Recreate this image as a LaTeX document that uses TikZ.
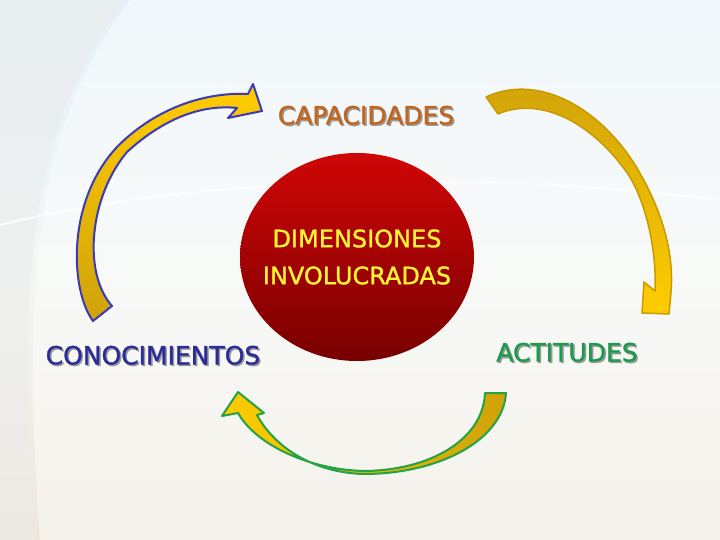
\documentclass[tikz,border=0pt]{standalone}
\usepackage{fontspec}
\setmainfont[FakeBold=1.2]{DejaVu Sans}
\usetikzlibrary{shapes.geometric}
\definecolor{bgtop}{HTML}{E6F1F7}
\definecolor{bgmid}{HTML}{F3F6F4}
\definecolor{bgbot}{HTML}{EEE7DB}
\definecolor{captxt}{HTML}{C4651E}
\definecolor{contxt}{HTML}{2B2B99}
\definecolor{acttxt}{HTML}{1E9A4C}
\definecolor{dimtxt}{HTML}{FFF535}
\definecolor{redtop}{HTML}{D00606}
\definecolor{redbot}{HTML}{780000}
\definecolor{goldA}{HTML}{FFCC00}
\definecolor{goldB}{HTML}{CFA20A}
\definecolor{blueline}{HTML}{3A3AB8}
\definecolor{greenline}{HTML}{24A244}
\definecolor{goldline}{HTML}{C99A00}
\definecolor{shadowgray}{HTML}{9A9A9A}
\newcommand{\shadowed}[1]{\makebox[0pt][l]{\hspace{1.5pt}\raisebox{-1.5pt}{\textcolor{shadowgray}{#1}}}#1}
\tikzset{
  lbl/.style={font=\fontsize{25}{29}\selectfont, inner sep=0pt},
  arrowshape/.style={line width=2pt, line join=round}
}
\begin{document}
\begin{tikzpicture}[x=1pt,y=-1pt]
\useasboundingbox (0,0) rectangle (720,540);
% background
\shade[top color=bgtop, bottom color=bgbot, middle color=bgmid] (0,0) rectangle (720,540);
\fill[white, opacity=0.45] (130,0) .. controls (40,120) and (20,260) .. (40,540) -- (720,540) -- (720,0) -- cycle;
\fill[black!8, opacity=0.5] (0,0) -- (125,0) .. controls (35,120) and (15,260) .. (35,540) -- (0,540) -- cycle;
\draw[white, line width=2.5pt, opacity=0.7] (0,225) .. controls (200,175) and (480,170) .. (720,200);

% central ellipse
\node[ellipse, minimum width=234pt, minimum height=208pt, inner sep=0pt,
      top color=redtop, bottom color=redbot, draw=none] (dim) at (357,257) {};
\node[align=center, text=dimtxt, inner sep=0pt, font=\fontsize{24}{37}\selectfont] (dimlabel) at (dim.center)
      {DIMENSIONES\\INVOLUCRADAS};

% labels
\node[lbl, text=captxt] (cap) at (366,116) {\shadowed{CAPACIDADES}};
\node[lbl, text=contxt] (con) at (153,356) {\shadowed{CONOCIMIENTOS}};
\node[lbl, text=acttxt] (act) at (567,353) {\shadowed{ACTITUDES}};

% left arrow (blue outline)
\shade[top color=goldA, bottom color=goldB] 
  (93,321) .. controls (70,290) and (66,200) .. (118,146)
  .. controls (158,106) and (208,92) .. (248,94)
  -- (253,84) -- (262,111) -- (228,118) -- (237,108)
  .. controls (200,104) and (162,120) .. (127,152)
  .. controls (90,196) and (82,272) .. (112,306) -- cycle;
\draw[arrowshape, draw=blueline]
  (93,321) .. controls (70,290) and (66,200) .. (118,146)
  .. controls (158,106) and (208,92) .. (248,94)
  -- (253,84) -- (262,111) -- (228,118) -- (237,108)
  .. controls (200,104) and (162,120) .. (127,152)
  .. controls (90,196) and (82,272) .. (112,306) -- cycle;

% right arrow (gold outline)
\shade[top color=goldB, bottom color=goldA, draw=goldline, line width=1.5pt, line join=round]
  (486,97) .. controls (540,72) and (602,110) .. (637,168)
  .. controls (664,214) and (674,255) .. (671,292)
  -- (669,314) -- (642,313) -- (644,282) -- (655,291)
  .. controls (657,242) and (642,192) .. (625,170)
  .. controls (590,122) and (540,96) .. (498,114) -- cycle;

% bottom arrow (green outline)
\shade[left color=goldA, right color=goldB]
  (506,393) .. controls (503,440) and (440,473) .. (367,474)
  .. controls (318,474) and (276,450) .. (257,415)
  -- (264,413) -- (238,392) -- (222,416) -- (238,413)
  .. controls (256,445) and (310,470) .. (365,471)
  .. controls (430,470) and (483,440) .. (485,393) -- cycle;
\draw[arrowshape, draw=greenline]
  (506,393) .. controls (503,440) and (440,473) .. (367,474)
  .. controls (318,474) and (276,450) .. (257,415)
  -- (264,413) -- (238,392) -- (222,416) -- (238,413)
  .. controls (256,445) and (310,470) .. (365,471)
  .. controls (430,470) and (483,440) .. (485,393) -- cycle;
\end{tikzpicture}
\end{document}
